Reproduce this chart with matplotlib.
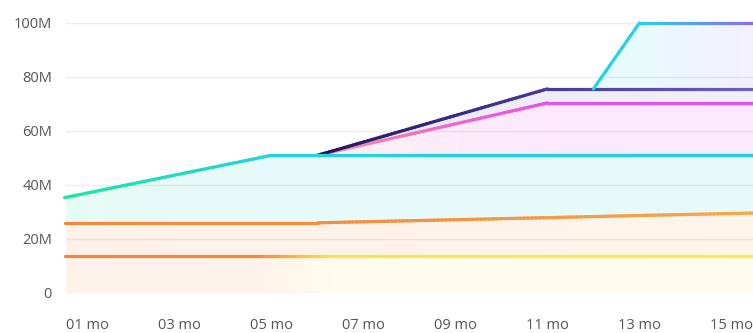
import numpy as np
import matplotlib
matplotlib.use("Agg")
import matplotlib.pyplot as plt
from matplotlib.collections import LineCollection
from matplotlib.patches import Polygon
from matplotlib.ticker import FuncFormatter

# month positions of the break points, values in millions
months = [0.5, 5, 6, 11, 12, 13, 16]
gold = [13.8, 13.8, 13.8, 13.8, 13.8, 13.8, 13.8]
amber = [26.0, 26.0, 26.0, 27.9, 28.3, 28.7, 29.8]
teal = [35.3, 51.0, 51.0, 51.0, 51.0, 51.0, 51.0]
magenta = [None, None, 51.0, 70.4, 70.4, 70.4, 70.4]
indigo = [None, None, 51.0, 75.6, 75.6, 75.6, 75.6]
sky = [None, None, None, None, 75.6, 100.0, 100.0]

tick_months = [1, 3, 5, 7, 9, 11, 13, 15]
tick_labels = ["01 mo", "03 mo", "05 mo", "07 mo", "09 mo", "11 mo", "13 mo", "15 mo"]
y_ticks = [0, 20, 40, 60, 80, 100]

# colour stops along x for each series
styles = [
    ("sky", sky, [(12, "#1fd6e8"), (13, "#2ad0ea"), (15.5, "#8a6cf0")]),
    ("indigo", indigo, [(6, "#22145e"), (11, "#463a9e"), (15.5, "#6a60c8")]),
    ("magenta", magenta, [(6, "#f59a9c"), (8.5, "#ef6cc4"), (11, "#e84ef0"), (15.5, "#e650f2")]),
    ("teal", teal, [(0.5, "#1be8a2"), (3, "#1fdcc0"), (5, "#24d2e0"), (15.5, "#22d0e2")]),
    ("amber", amber, [(0.5, "#f5853a"), (8, "#f69140"), (15.5, "#f9a748")]),
    ("gold", gold, [(0.5, "#f5873a"), (4.7, "#f5893a"), (6.3, "#fde24a"), (15.5, "#ffe94c")]),
]
tints = {"sky": 0.10, "indigo": 0.09, "magenta": 0.13, "teal": 0.11, "amber": 0.11, "gold": 0.10}


def color_fn(stops):
    xs = [s[0] for s in stops]
    rgb = np.array([matplotlib.colors.to_rgb(s[1]) for s in stops])
    def f(x):
        x = np.atleast_1d(x)
        return np.stack([np.interp(x, xs, rgb[:, i]) for i in range(3)], axis=1)
    return f


def points(vals):
    pts = [(m, v) for m, v in zip(months, vals) if v is not None]
    return np.array([p[0] for p in pts]), np.array([p[1] for p in pts])


fig = plt.figure(figsize=(7.53, 3.33), dpi=100)
ax = fig.add_axes([66 / 753, 40 / 333, 687 / 753, 270 / 333])
XMIN, XMAX = 0.53, 15.47

# area fills, top series first so lower ones sit over them
for name, vals, stops in styles:
    x, y = points(vals)
    f = color_fn(stops)
    gx = np.linspace(x[0], x[-1], 400)
    c = f(gx)
    a = tints[name]
    c = 1 - a * (1 - c)
    img = c[np.newaxis, :, :]
    im = ax.imshow(img, extent=[x[0], x[-1], 0, 100], aspect="auto",
                   origin="lower", zorder=1, interpolation="bilinear")
    poly = Polygon(np.vstack([np.column_stack([x, y]), [[x[-1], 0], [x[0], 0]]]),
                   closed=True, facecolor="none", edgecolor="none")
    ax.add_patch(poly)
    im.set_clip_path(poly)

# grid
for v in y_ticks:
    ax.axhline(v, color="#000000", alpha=0.07, lw=1, zorder=2)

# gradient lines
draw_order = ["gold", "amber", "magenta", "indigo", "sky", "teal"]
lookup = {s[0]: s for s in styles}
for name in draw_order:
    _, vals, stops = lookup[name]
    x, y = points(vals)
    f = color_fn(stops)
    segs, cols = [], []
    for i in range(len(x) - 1):
        n = max(int((x[i + 1] - x[i]) * 12), 2)
        xs = np.linspace(x[i], x[i + 1], n)
        ys = np.linspace(y[i], y[i + 1], n)
        p = np.column_stack([xs, ys])
        segs.extend(np.stack([p[:-1], p[1:]], axis=1))
        cols.extend(f((xs[:-1] + xs[1:]) / 2))
    lc = LineCollection(segs, colors=cols, linewidths=2.3, capstyle="round",
                        joinstyle="round", zorder=3)
    lc.set_clip_on(False)
    ax.add_collection(lc)

ax.set_xlim(XMIN, XMAX)
ax.set_ylim(0, 100)
ax.set_yticks(y_ticks)
ax.yaxis.set_major_formatter(FuncFormatter(lambda v, p: "0" if v == 0 else f"{v:.0f}M"))
ax.set_xticks(tick_months)
ax.set_xticklabels(tick_labels)
for s in ax.spines.values():
    s.set_visible(False)
ax.tick_params(axis="both", length=0, labelsize=10.5, labelcolor="#555555")
ax.tick_params(axis="x", pad=18)
ax.tick_params(axis="y", pad=10)
for t in ax.get_xticklabels() + ax.get_yticklabels():
    t.set_fontfamily("Open Sans")

fig.savefig("out.png", dpi=100, facecolor="white")
